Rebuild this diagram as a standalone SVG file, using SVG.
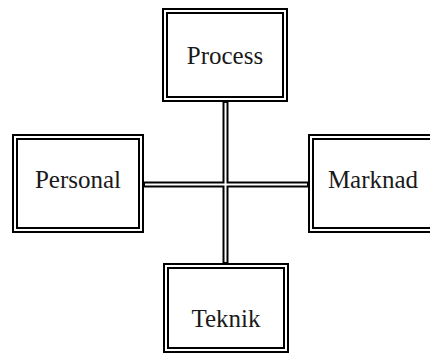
<svg xmlns="http://www.w3.org/2000/svg" width="430" height="356" viewBox="0 0 430 356">
<style>
.frame{fill:none;stroke:#000;stroke-width:2}
.lbl{font-family:"Liberation Serif","Times New Roman",serif;font-size:25px;fill:#1a1a1a;text-anchor:middle}
.cb{stroke:#000;stroke-width:6;fill:none}
.cw{stroke:#fff;stroke-width:2;fill:none}
</style>
<rect width="430" height="356" fill="#fff"/>
<g id="connectors">
<line class="cb" x1="225.5" y1="101" x2="225.5" y2="264"/>
<line class="cb" x1="143" y1="184.5" x2="309" y2="184.5"/>
<line class="cw" x1="225.5" y1="103" x2="225.5" y2="262"/>
<line class="cw" x1="145" y1="184.5" x2="307" y2="184.5"/>
</g>
<g id="process">
<rect class="frame" x="163" y="9" width="124" height="92" fill="#fff"/>
<rect class="frame" x="167" y="13" width="116" height="84"/>
<text class="lbl" x="225" y="64">Process</text>
</g>
<g id="personal">
<rect class="frame" x="13" y="135" width="130" height="97"/>
<rect class="frame" x="17" y="139" width="122" height="89"/>
<text class="lbl" x="78" y="188">Personal</text>
</g>
<g id="marknad">
<rect class="frame" x="309" y="135" width="130" height="97"/>
<rect class="frame" x="313" y="139" width="122" height="89"/>
<text class="lbl" x="373" y="188">Marknad</text>
</g>
<g id="teknik">
<rect class="frame" x="164" y="264" width="124" height="88"/>
<rect class="frame" x="168" y="268" width="116" height="80"/>
<text class="lbl" x="226" y="327">Teknik</text>
</g>
</svg>
